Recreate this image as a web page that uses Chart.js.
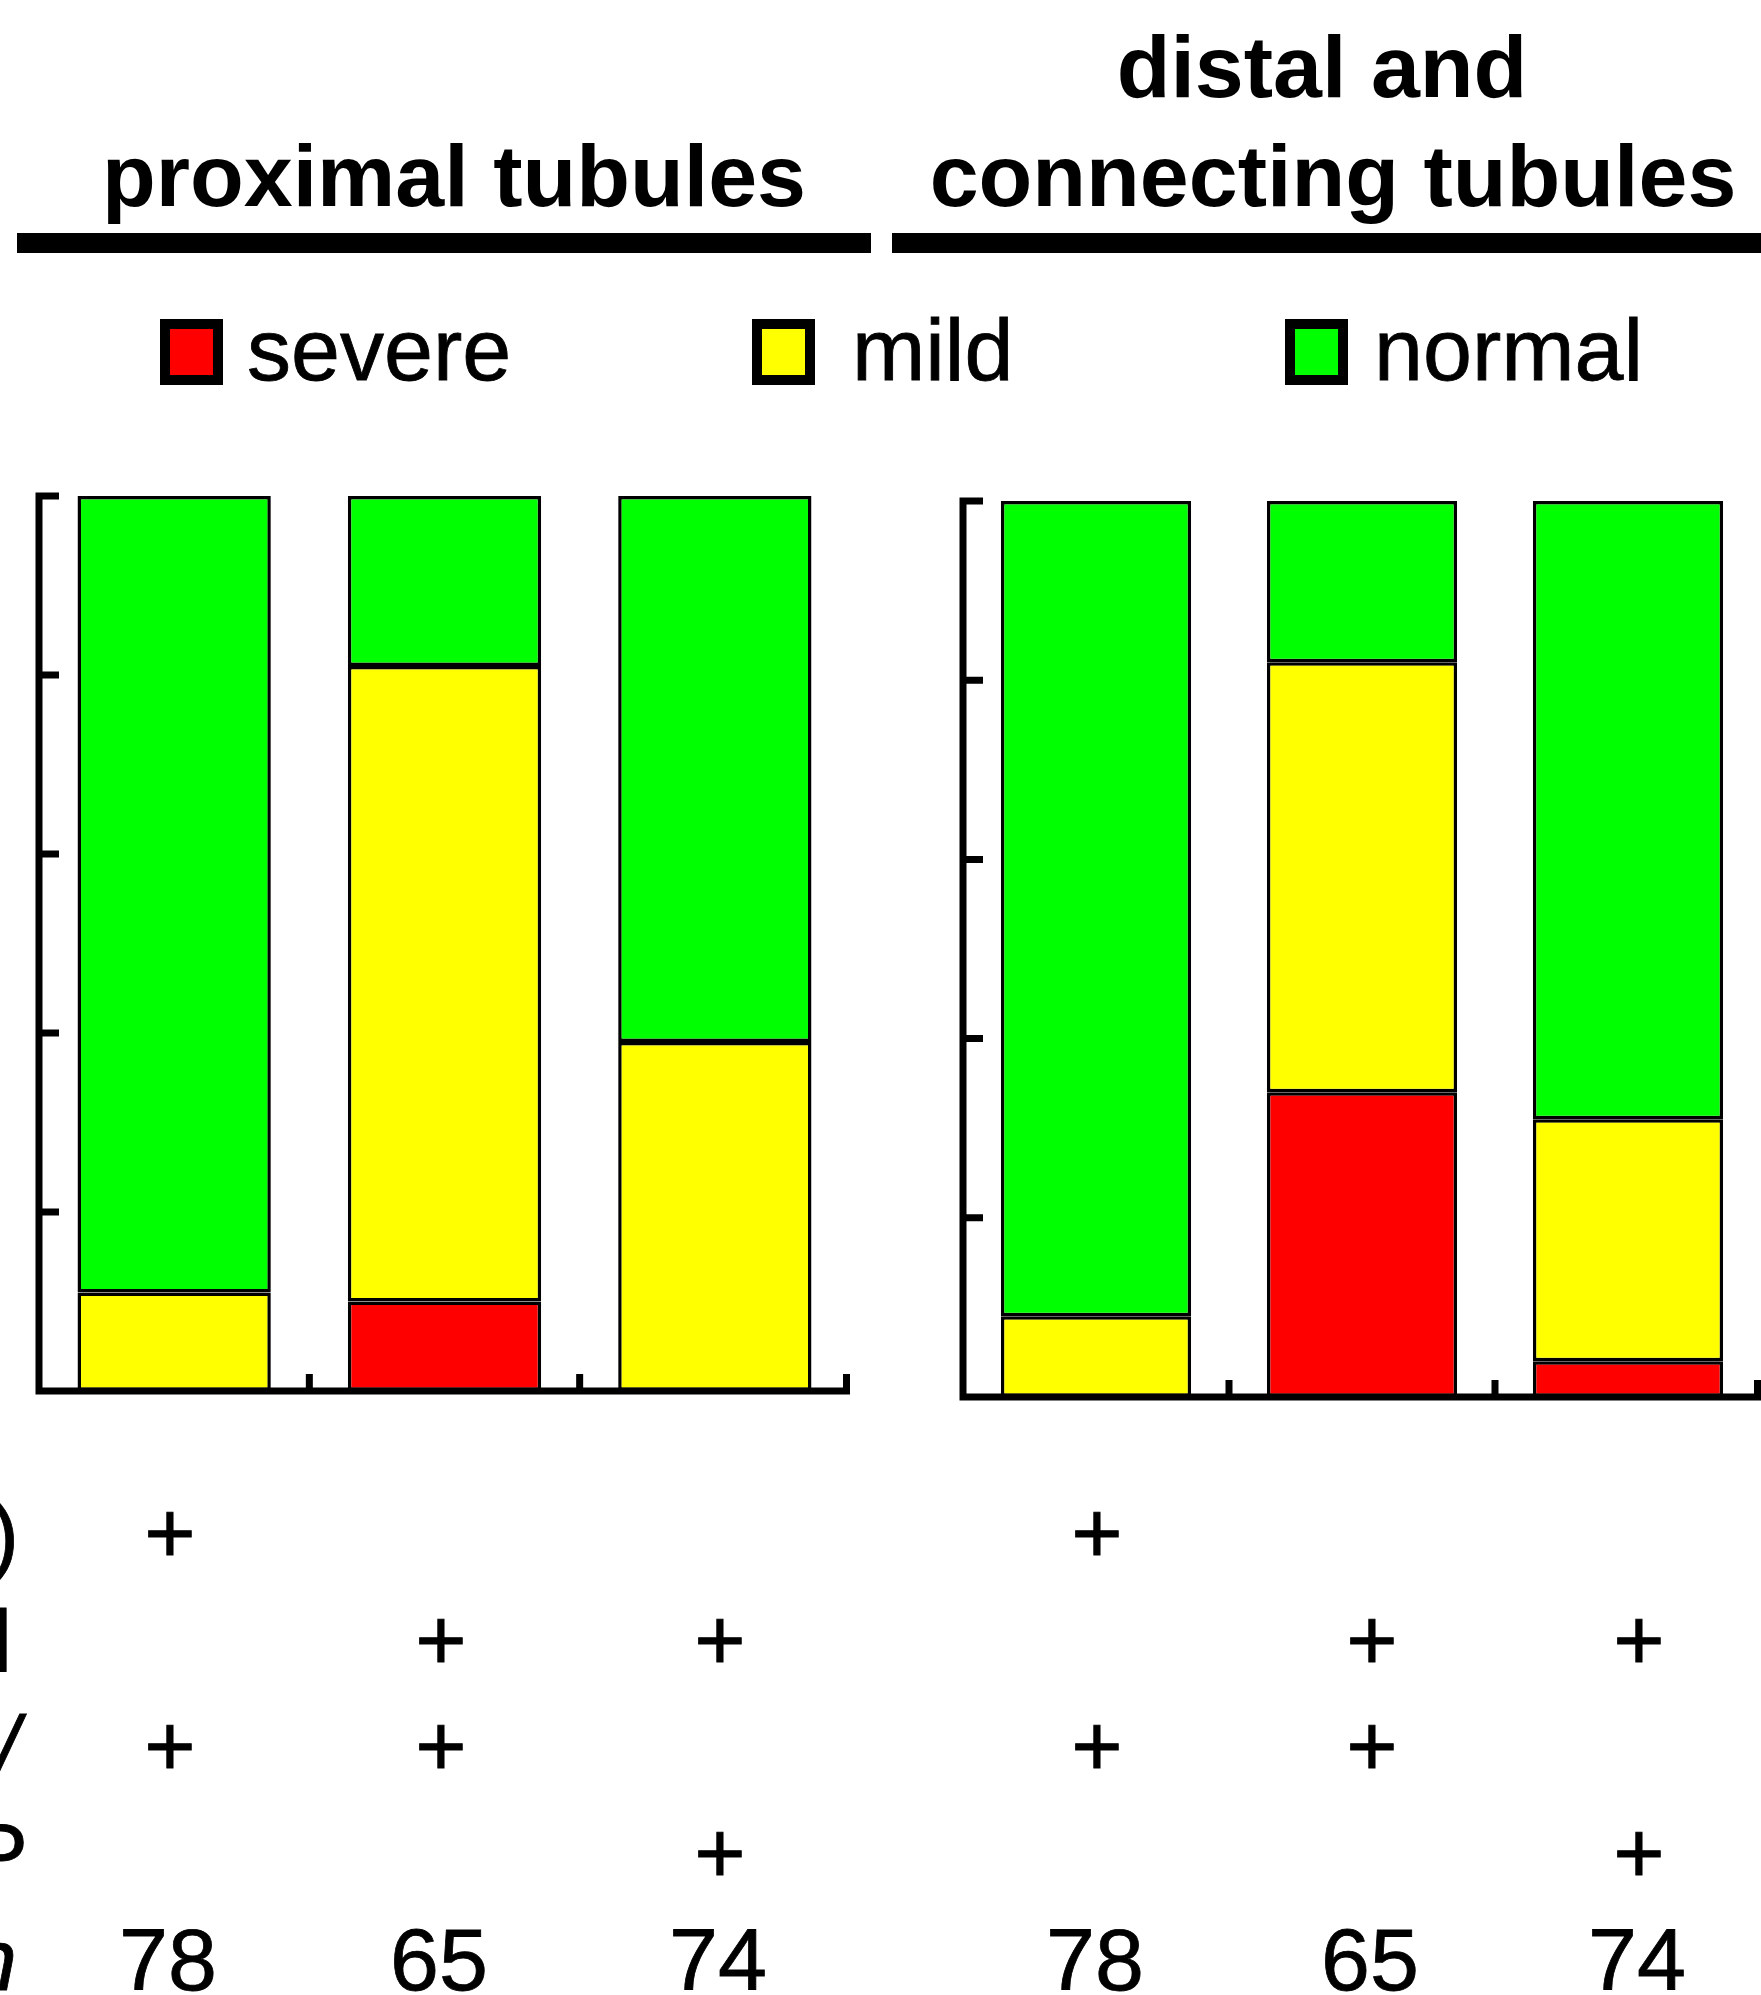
<!DOCTYPE html>
<html>
<head>
<meta charset="utf-8">
<script src="https://cdn.jsdelivr.net/npm/chart.js@4.4.1/dist/chart.umd.min.js"></script>
<style>
  html, body { margin: 0; padding: 0; background: #fff; }
  body { width: 1761px; height: 1995px; position: relative; overflow: hidden;
         font-family: "Liberation Sans", Arial, Helvetica, sans-serif; color: #000; }
  .t { position: absolute; font-size: 88px; line-height: 1; white-space: nowrap; -webkit-text-stroke: 0.8px #000; }
  .b { font-weight: bold; -webkit-text-stroke: 0; }
  .c { transform: translateX(-50%); }
  .cc { transform: translate(-50%, -50%); }
  .r { transform: translateX(-100%); }
  .bar { position: absolute; background: #000; }
  .sw { position: absolute; width: 63px; height: 66px; border: 10px solid #000; box-sizing: border-box; }
  canvas { position: absolute; }
</style>
</head>
<body>
<canvas id="left" width="880" height="945" style="left:0px; top:470px;"></canvas>
<canvas id="right" width="861" height="950" style="left:900px; top:470px;"></canvas>
<div id="overlay"></div>
<script>
// ---------- data ----------
const categories = ["group 1", "group 2", "group 3"];
const seriesNames = ["severe", "mild", "normal"];
const seriesColors = ["#ff0000", "#ffff00", "#00ff00"];

const proximalSevere = [0, 10, 0];
const proximalMild   = [11, 71, 39];
const proximalNormal = [89, 19, 61];

const distalSevere = [0, 34, 4];
const distalMild   = [9, 48, 27];
const distalNormal = [91, 18, 69];

const yTickValues = [0, 20, 40, 60, 80, 100];

const panelTitles = [["proximal tubules"], ["distal and", "connecting tubules"]];

// condition table (rows of +), identical for both panels
const rowLabels = [")", "l", "/", "P"];
const conditionRows = [
  ["+", "", ""],
  ["", "+", "+"],
  ["+", "+", ""],
  ["", "", "+"]
];
const nLabel = "n";
const nValues = [78, 65, 74];

// ---------- axis plugin (inward ticks, drawn from the chart's scales) ----------
const axisPlugin = {
  id: "axisPlugin",
  afterDraw(chart) {
    const ctx = chart.ctx;
    const xs = chart.scales.x, ys = chart.scales.y, a = chart.chartArea;
    const lw = 7, tl = 20;
    const y0 = ys.getPixelForValue(0);
    const yTop = ys.getPixelForValue(100);
    ctx.save();
    ctx.strokeStyle = "#000";
    ctx.lineWidth = lw;
    ctx.lineCap = "butt";
    ctx.beginPath();
    ctx.moveTo(a.left, yTop - lw / 2);
    ctx.lineTo(a.left, y0 + lw / 2);
    ctx.moveTo(a.left - lw / 2, y0);
    ctx.lineTo(a.right, y0);
    yTickValues.forEach(v => {
      const py = ys.getPixelForValue(v);
      ctx.moveTo(a.left, py);
      ctx.lineTo(a.left + tl, py);
    });
    const n = chart.data.labels.length;
    const step = xs.getPixelForValue(1) - xs.getPixelForValue(0);
    for (let i = 0; i < n; i++) {
      let px = xs.getPixelForValue(i) + step / 2;
      if (i === n - 1) px = Math.min(px, a.right - lw / 2);
      ctx.moveTo(px, y0);
      ctx.lineTo(px, y0 - tl + 3);
    }
    ctx.stroke();
    ctx.restore();
  }
};

function makeChart(id, severe, mild, normal, padding) {
  const values = [severe, mild, normal];
  return new Chart(document.getElementById(id), {
    type: "bar",
    data: {
      labels: categories,
      datasets: seriesNames.map((name, i) => ({
        label: name,
        data: values[i],
        backgroundColor: seriesColors[i],
        borderColor: "#000",
        borderWidth: 3.5,
        borderSkipped: false,
        barPercentage: 0.715,
        categoryPercentage: 1.0
      }))
    },
    options: {
      responsive: false,
      animation: false,
      devicePixelRatio: 1,
      layout: { padding: padding },
      plugins: { legend: { display: false }, tooltip: { enabled: false }, title: { display: false } },
      scales: {
        x: { stacked: true, display: false, offset: true },
        y: { stacked: true, display: false, min: 0, max: 100 }
      }
    },
    plugins: [axisPlugin]
  });
}

makeChart("left", proximalSevere, proximalMild, proximalNormal, { left: 39, top: 26, right: 30, bottom: 24 });
makeChart("right", distalSevere, distalMild, distalNormal, { left: 63, top: 31, right: 0, bottom: 23 });

// ---------- text & decorations ----------
const ov = document.getElementById("overlay");
function add(html) { ov.insertAdjacentHTML("beforeend", html); }
const ASC = 74.5; // baseline offset from top for 88px, line-height 1

// titles
add(`<div class="t b c" style="left:454px; top:${206 - ASC}px;">${panelTitles[0][0]}</div>`);
add(`<div class="t b c" style="left:1322px; top:${97 - ASC}px;">${panelTitles[1][0]}</div>`);
add(`<div class="t b c" style="left:1333px; top:${206 - ASC}px;">${panelTitles[1][1]}</div>`);
add(`<div class="bar" style="left:17px; top:233px; width:854px; height:20px;"></div>`);
add(`<div class="bar" style="left:892px; top:233px; width:869px; height:20px;"></div>`);

// legend
const swX = [160, 752, 1285];
const txX = [247, 852, 1374];
seriesNames.forEach((name, i) => {
  add(`<div class="sw" style="left:${swX[i]}px; top:319px; background:${seriesColors[i]};"></div>`);
  add(`<div class="t" style="left:${txX[i]}px; top:${380 - ASC}px;">${name}</div>`);
});

// condition table
const colX = [[170, 441, 720], [1097, 1372, 1639]];
const rowY = [1533, 1640, 1746, 1853];
const labelRight = [19, 12, 19, 28];
const labelItalic = [false, false, true, false];
rowLabels.forEach((lab, r) => {
  add(`<div class="t r" style="left:${labelRight[r]}px; top:${rowY[r] + 31 - ASC}px;${labelItalic[r] ? " font-style:italic;" : ""}">${lab}</div>`);
  colX.forEach(cols => {
    cols.forEach((x, c) => {
      if (conditionRows[r][c]) add(`<div class="t cc" style="left:${x}px; top:${rowY[r]}px;">${conditionRows[r][c]}</div>`);
    });
  });
});
add(`<div class="t r" style="left:17px; top:${1990 - ASC}px; font-style:italic;">${nLabel}</div>`);
colX.forEach(cols => {
  cols.forEach((x, c) => {
    add(`<div class="t c" style="left:${x - 2}px; top:${1990 - ASC}px;">${nValues[c]}</div>`);
  });
});
</script>
</body>
</html>
